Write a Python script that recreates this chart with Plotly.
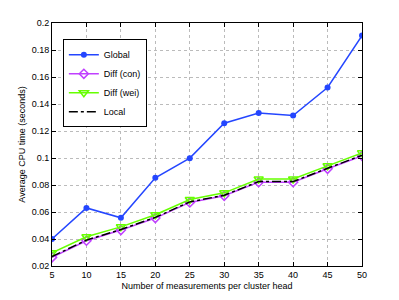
import plotly.graph_objects as go

x_vals = [5, 10, 15, 20, 25, 30, 35, 40, 45, 50]
global_vals = [0.040, 0.063, 0.0557, 0.0853, 0.0999, 0.1258, 0.1334, 0.1315, 0.1522, 0.1907]
diff_con = [0.0264, 0.0387, 0.0466, 0.0555, 0.0671, 0.0720, 0.0821, 0.0821, 0.0920, 0.1016]
diff_wei = [0.0298, 0.0417, 0.0490, 0.0580, 0.0693, 0.0742, 0.0844, 0.0844, 0.0942, 0.1038]
local_vals = [0.0270, 0.0392, 0.0470, 0.0560, 0.0675, 0.0724, 0.0825, 0.0825, 0.0924, 0.1020]
x_ticks = [5, 10, 15, 20, 25, 30, 35, 40, 45, 50]
y_ticks = [0.02, 0.04, 0.06, 0.08, 0.1, 0.12, 0.14, 0.16, 0.18, 0.2]
y_tick_labels = ["0.02", "0.04", "0.06", "0.08", "0.1", "0.12", "0.14", "0.16", "0.18", "0.2"]

fig = go.Figure()
fig.add_trace(go.Scatter(x=x_vals, y=global_vals, name="Global", mode="lines+markers",
                         line=dict(color="#2446FF", width=1.5),
                         marker=dict(symbol="circle", size=6, color="#2446FF")))
fig.add_trace(go.Scatter(x=x_vals, y=diff_con, name="Diff (con)", mode="lines+markers",
                         line=dict(color="#C040FF", width=1.5),
                         marker=dict(symbol="diamond-open", size=7, color="#C040FF", line=dict(width=1.5))))
fig.add_trace(go.Scatter(x=x_vals, y=diff_wei, name="Diff (wei)", mode="lines+markers",
                         line=dict(color="#66FF00", width=1.5),
                         marker=dict(symbol="triangle-down-open", size=8, color="#66FF00", line=dict(width=1.5))))
fig.add_trace(go.Scatter(x=x_vals, y=local_vals, name="Local", mode="lines",
                         line=dict(color="black", width=1.5, dash="dashdot")))

axis_common = dict(showline=True, linecolor="black", linewidth=1, mirror="ticks",
                   ticks="inside", ticklen=4, tickcolor="black", automargin=False,
                   showgrid=True, gridcolor="#BBBBBB", griddash="dot", gridwidth=1,
                   zeroline=False, tickfont=dict(size=9, color="black"))

fig.update_xaxes(range=[5, 50], tickvals=x_ticks,
                 title=dict(text="Number of measurements per cluster head", font=dict(size=9, color="black"), standoff=3),
                 **axis_common)
fig.update_yaxes(range=[0.02, 0.2], tickvals=y_ticks, ticktext=y_tick_labels,
                 title=dict(text="Average CPU time (seconds)", font=dict(size=9, color="black"), standoff=4),
                 **axis_common)

fig.update_layout(width=399, height=300, margin=dict(l=52, r=37, t=23, b=34, autoexpand=False),
                  paper_bgcolor="white", plot_bgcolor="white",
                  font=dict(family="Liberation Sans, Arial, sans-serif", size=9, color="black"),
                  legend=dict(x=0.035, y=0.933, xanchor="left", yanchor="top",
                              bgcolor="white", bordercolor="black", borderwidth=1,
                              font=dict(size=9), tracegroupgap=0, itemwidth=30),
                  showlegend=True)

fig.write_html("out.html", config={"displayModeBar": False},
               post_script="document.body.style.margin='0';")
